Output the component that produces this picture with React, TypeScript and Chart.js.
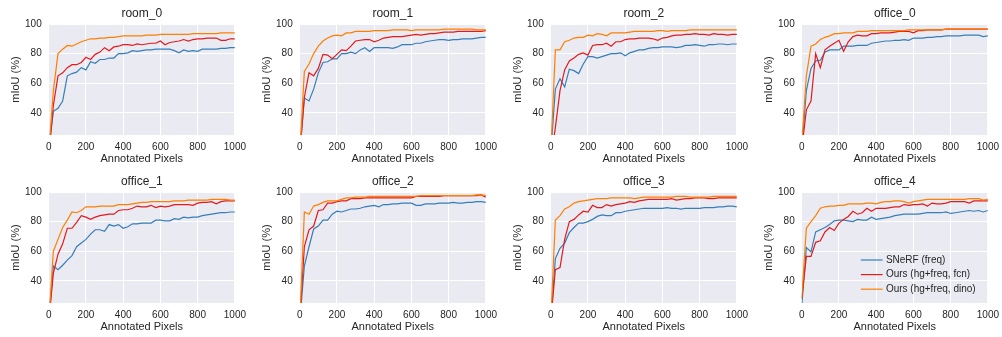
import { useEffect, useRef } from "react";
import Chart from "chart.js/auto";

const FONT = "'Liberation Sans', Arial, sans-serif";
const TEXT = "#262626";
const BG = "#EAEAF2";
const BLUE = "#377eb8";
const RED = "#e41a1c";
const ORANGE = "#ff7f00";

const seriesLabels = ["SNeRF (freq)", "Ours (hg+freq, fcn)", "Ours (hg+freq, dino)"];

const xs = [0, 25, 50, 75, 100, 125, 150, 175, 200, 225, 250, 275, 300, 325, 350, 375, 400, 425, 450, 475, 500, 525, 550, 575, 600, 625, 650, 675, 700, 725, 750, 775, 800, 825, 850, 875, 900, 925, 950, 975, 1000];
const xTicks = [0, 200, 400, 600, 800, 1000];
const yTicks = [40, 60, 80, 100];

// room_0
const room0Snerf = [14, 41, 43, 48, 65, 66.5, 67.5, 70.5, 69, 74.5, 73.5, 76, 76, 77, 77, 80, 80, 80.5, 82, 81.5, 82, 82.5, 82.5, 83, 83, 83, 83, 82, 80.5, 82.5, 81.5, 82, 81.5, 83, 83, 83, 83, 83.5, 83.5, 84, 84];
const room0Fcn = [12, 45, 65, 67, 70.5, 72.5, 72.5, 74, 77.5, 76, 79.5, 81, 84, 82, 84.5, 85, 86, 86, 85.5, 86.5, 86, 86.5, 87, 87, 88.5, 86, 87.5, 88, 88.5, 89.5, 88.5, 89.5, 90, 90, 90.5, 90.5, 90.5, 89, 89, 90, 90];
const room0Dino = [13, 55, 80, 83, 85.5, 85, 86.5, 88, 89, 90, 90, 90.5, 90.5, 91, 91, 91.5, 92, 92, 92, 92, 92, 92.5, 92.5, 92.5, 93, 93, 93, 93, 93, 93, 93, 93.5, 93.5, 93.5, 93.5, 93.5, 93.5, 94, 94, 94, 94];

// room_1
const room1Snerf = [12, 50, 48, 56, 67, 74, 74.5, 76.5, 76.5, 80, 80, 81, 80, 82.5, 84, 81.5, 84, 84, 84, 84, 83.5, 84.5, 86, 86, 86, 87, 87, 88, 88.5, 89, 89.5, 89.5, 89, 89.5, 89.5, 90, 90, 90, 90.5, 91, 91];
const room1Fcn = [12, 50.5, 67, 65, 70, 79.5, 79, 76.5, 79.5, 82.5, 82, 85, 88.5, 89, 89.5, 89.5, 88, 89, 90.5, 91, 91.5, 91.5, 91.5, 92, 92.5, 93, 92.5, 93, 93.5, 93.5, 94, 94.5, 94.5, 94.5, 95, 95, 95, 95, 95, 95, 95.5];
const room1Dino = [12, 68, 73, 80, 85, 88.5, 90.5, 92, 92.5, 92, 94, 94, 95, 95, 95, 95, 95.5, 95.5, 95.5, 95.5, 96, 96, 96, 96, 95.5, 96, 96, 96, 96, 96, 96, 96.5, 96.5, 96.5, 96.5, 96.5, 96.5, 96.5, 96, 96, 96];

// room_2
const room2Snerf = [12, 56, 63, 57.5, 69.5, 68.5, 66.5, 73, 78, 78, 77, 78, 79, 80, 80, 80.5, 78.5, 80.5, 81.5, 82.5, 82.5, 83.5, 84, 84, 84.5, 84.5, 84.5, 84, 84.5, 85.5, 85.5, 86, 85.5, 85, 86, 86, 86.5, 86.5, 86, 86.5, 86.5];
const room2Fcn = [8, 30, 55, 69, 75, 77, 79.5, 80.5, 79, 85.5, 86, 86, 87, 85, 88, 88, 89.5, 90, 90, 90.5, 90.5, 90.5, 90, 89, 90.5, 91, 92, 92.5, 92.5, 93, 93, 93.5, 93, 93, 92.5, 93.5, 93, 93, 92.5, 93, 93];
const room2Dino = [11, 82.5, 82.5, 88, 89, 90.5, 91, 91, 92.5, 92, 93.5, 93, 92, 94, 94, 94, 94, 94.5, 95, 95, 95, 95, 95, 95.5, 95.5, 95, 95.5, 95.5, 95.5, 95.5, 96, 96, 96, 96, 96, 96, 96, 96, 96, 96, 96];

// office_0
const office0Snerf = [15, 55, 70, 75, 75.5, 81, 82.5, 82.5, 82.5, 85, 85, 85, 85.5, 85.5, 85.5, 87, 87.5, 88, 88.5, 88.5, 89, 89, 89.5, 89, 90.5, 90.5, 90.5, 91, 91, 91.5, 91.5, 92, 92, 92, 92, 92.5, 92.5, 92.5, 92.5, 91.5, 92];
const office0Fcn = [15, 42, 48, 80, 70.5, 82.5, 85, 87, 89, 81.5, 88, 91.5, 92.5, 92, 92, 93.5, 93.5, 94, 94, 94, 94.5, 95, 95, 95, 94, 95.5, 95.5, 96, 96, 96, 96, 96.5, 96.5, 96.5, 96.5, 96.5, 96.5, 96.5, 96.5, 96.5, 96.5];
const office0Dino = [18, 65, 85, 86.5, 89.5, 91, 92, 93.5, 93.5, 94, 94, 94, 95, 95, 95, 95.5, 95.5, 95.5, 95.5, 95.5, 95.5, 95.5, 95.5, 96, 96, 96, 96, 96, 96, 96, 96, 96.5, 96.5, 96.5, 96.5, 96.5, 96.5, 96.5, 96.5, 96.5, 96.5];

// office_1
const office1Snerf = [12, 50, 47.5, 50.5, 54, 57, 63, 65.5, 68, 71.5, 74.5, 74.5, 73.5, 78, 77, 78, 75.5, 76.5, 78.5, 78.5, 79, 79, 79, 81, 81, 80.5, 80.5, 82, 81.5, 83, 82.5, 83, 83, 84, 84.5, 85, 85.5, 86, 86, 86.5, 86.5];
const office1Fcn = [12, 45, 58, 65, 75.5, 75.5, 79.5, 84, 83, 81.5, 83, 84, 84.5, 85, 85, 87.5, 88, 88, 89, 90.5, 90, 90, 91, 89.5, 90.5, 90, 90.5, 91.5, 91.5, 91.5, 91.5, 91, 92.5, 93, 93, 93.5, 92, 93.5, 94, 94, 94];
const office1Dino = [12, 60, 68, 76, 81, 86.5, 86, 87.5, 90, 90, 90, 90.5, 90.5, 90.5, 90.5, 91.5, 91.5, 91.5, 92, 92.5, 93, 93, 93.5, 93.5, 93.5, 93.5, 93.5, 94, 94, 94, 94.5, 94.5, 94.5, 94.5, 94.5, 95, 95, 95, 95, 94.5, 94.5];

// office_2
const office2Snerf = [12, 50, 63, 75, 77, 81, 81, 85, 87, 86.5, 87.5, 88.5, 88.5, 89, 90, 90.5, 91, 90, 91.5, 91.5, 92, 92, 92.5, 92.5, 92.5, 91, 91, 92, 92, 92, 92.5, 92.5, 92.5, 93, 92.5, 92.5, 93, 93, 93.5, 93.5, 93];
const office2Fcn = [12, 63, 74.5, 77, 87.5, 88, 92.5, 92.5, 93.5, 94, 94, 95.5, 95.5, 95.5, 96, 96, 96, 96, 96, 96, 96, 96, 96, 96, 96, 97, 97, 97, 97, 97, 97, 97.5, 97.5, 97.5, 97.5, 97.5, 97.5, 97.5, 97.5, 98, 96.5];
const office2Dino = [12, 86.5, 85, 90.5, 91.5, 93, 94, 94, 94, 95, 96, 96, 96.5, 96.5, 96.5, 97, 97, 97, 97, 97, 97, 97, 97, 97, 97, 97, 97.5, 97.5, 97.5, 97.5, 97.5, 97.5, 97.5, 97.5, 97.5, 97.5, 97.5, 97.5, 98, 98, 97.5];

// office_3
const office3Snerf = [12, 55, 62, 65.5, 72.5, 76, 79, 79, 80, 81.5, 83.5, 84.5, 84, 84, 86, 86, 87, 87.5, 88, 88.5, 89, 89, 89, 89, 89, 89.5, 89, 89, 88.5, 89, 89, 89, 89, 89.5, 89.5, 89.5, 90, 90, 90.5, 90.5, 90];
const office3Fcn = [12, 47.5, 49, 68, 80, 81.5, 84.5, 87, 86.5, 91, 89.5, 89.5, 91.5, 90.5, 91.5, 92, 92.5, 93.5, 93, 94, 94.5, 95, 95, 95, 95, 95, 95.5, 94.5, 95, 95.5, 95.5, 96, 96, 96, 95.5, 95.5, 96, 96, 96, 96, 96];
const office3Dino = [12, 81, 84, 88.5, 90, 92.5, 93.5, 94, 94.5, 95, 95.5, 95.5, 95.5, 96, 96, 96, 96, 96, 95.5, 96, 96.5, 96.5, 96.5, 96.5, 96.5, 96.5, 96.5, 97, 97, 97, 96.5, 96.5, 96.5, 96.5, 96.5, 97, 97, 97, 97, 97, 97];

// office_4
const office4Snerf = [22, 62.5, 59.5, 73, 74.5, 76, 78, 80.5, 81, 81, 80.5, 80, 81.5, 81, 81, 83, 81.5, 82, 82.5, 83, 84, 84.5, 85, 85, 85, 85, 85.5, 86, 86, 86, 86, 86.5, 85.5, 86, 86.5, 87, 87.5, 87, 87.5, 86.5, 87.5];
const office4Fcn = [28, 56.5, 56.5, 66, 67, 73, 76, 74, 79, 81.5, 83.5, 87, 85, 86, 89, 87, 89, 89, 89, 89.5, 90, 90, 91.5, 91, 91.5, 91.5, 92, 90.5, 92.5, 92, 92, 92.5, 93.5, 93.5, 93.5, 93.5, 92.5, 94, 94, 94, 94];
const office4Dino = [28, 75.5, 80, 84, 89, 90, 90.5, 90.5, 91, 91, 92, 92, 92, 92, 92.5, 92.5, 92, 93, 93.5, 93.5, 94, 94, 93.5, 92.5, 93.5, 94, 94.5, 95, 95, 95, 95, 95, 95, 95, 95, 95, 95.5, 95.5, 95.5, 94.5, 95];

const panelTitles = ["room_0", "room_1", "room_2", "office_0", "office_1", "office_2", "office_3", "office_4"];
const panelSeries = [
  [room0Snerf, room0Fcn, room0Dino],
  [room1Snerf, room1Fcn, room1Dino],
  [room2Snerf, room2Fcn, room2Dino],
  [office0Snerf, office0Fcn, office0Dino],
  [office1Snerf, office1Fcn, office1Dino],
  [office2Snerf, office2Fcn, office2Dino],
  [office3Snerf, office3Fcn, office3Dino],
  [office4Snerf, office4Fcn, office4Dino],
];
const seriesColors = [BLUE, RED, ORANGE];

const CANVAS_W = 252;
const CANVAS_H = 168;
const COL_LEFT = [0, 251, 502, 753];
const ROW_TOP = [0, 168];

const bgPlugin = {
  id: "axesBg",
  beforeDraw(chart: any) {
    const { ctx, chartArea } = chart;
    ctx.save();
    ctx.fillStyle = BG;
    ctx.fillRect(chartArea.left, chartArea.top, chartArea.right - chartArea.left, chartArea.bottom - chartArea.top);
    ctx.restore();
  },
};

const cornerLegend = {
  id: "cornerLegend",
  afterDraw(chart: any) {
    const { ctx, chartArea } = chart;
    ctx.save();
    ctx.font = `10px ${FONT}`;
    ctx.textBaseline = "middle";
    ctx.textAlign = "left";
    chart.data.datasets.forEach((d: any, i: number) => {
      const y = chartArea.bottom - 43 + i * 14.6;
      const x0 = chartArea.right - 127;
      ctx.strokeStyle = d.borderColor;
      ctx.lineWidth = 1.2;
      ctx.beginPath();
      ctx.moveTo(x0, y);
      ctx.lineTo(x0 + 21.7, y);
      ctx.stroke();
      ctx.fillStyle = TEXT;
      ctx.fillText(d.label, x0 + 25, y);
    });
    ctx.restore();
  },
};

function Panel({ index }: { index: number }) {
  const ref = useRef<HTMLCanvasElement | null>(null);
  useEffect(() => {
    if (!ref.current) return;
    const series = panelSeries[index];
    const datasets = series.map((vals, si) => ({
      label: seriesLabels[si],
      data: xs.map((x, i) => ({ x, y: vals[i] })),
      borderColor: seriesColors[si],
      backgroundColor: seriesColors[si],
      borderWidth: 1.2,
      pointRadius: 0,
      pointHoverRadius: 0,
      tension: 0,
      fill: false,
      clip: 0,
      order: 3 - si,
    }));
    const plugins: any[] = [bgPlugin];
    if (index === 7) plugins.push(cornerLegend);
    const chart = new Chart(ref.current, {
      type: "line",
      data: { datasets },
      options: {
        animation: false,
        responsive: false,
        devicePixelRatio: 1,
        events: [],
        layout: { padding: { top: 0, right: 13, bottom: 0, left: 0 } },
        plugins: {
          legend: { display: false },
          tooltip: { enabled: false },
          title: {
            display: true,
            fullSize: false,
            text: panelTitles[index],
            color: TEXT,
            font: { family: FONT, size: 12, weight: "normal" },
            padding: { top: 6.6, bottom: 3 },
          },
        },
        scales: {
          x: {
            type: "linear",
            min: 0,
            max: 1000,
            afterBuildTicks: (axis: any) => {
              axis.ticks = xTicks.map((v) => ({ value: v }));
            },
            afterFit: (scale: any) => {
              scale.height = 33;
            },
            grid: { color: "#ffffff", lineWidth: 1, drawTicks: false },
            border: { display: false },
            ticks: {
              color: TEXT,
              font: { family: FONT, size: 10 },
              padding: 6,
              maxRotation: 0,
              autoSkip: false,
              callback: (v: any) => String(v),
            },
            title: {
              display: true,
              text: "Annotated Pixels",
              color: TEXT,
              font: { family: FONT, size: 11 },
              padding: { top: 0, bottom: 2.5 },
            },
          },
          y: {
            type: "linear",
            min: 25,
            max: 100,
            afterBuildTicks: (axis: any) => {
              axis.ticks = yTicks.map((v) => ({ value: v }));
            },
            afterFit: (scale: any) => {
              scale.width = 48.7;
            },
            grid: { color: "#ffffff", lineWidth: 1, drawTicks: false },
            border: { display: false },
            ticks: {
              color: TEXT,
              font: { family: FONT, size: 10 },
              padding: 7,
              callback: (v: any) => String(v),
            },
            title: {
              display: true,
              text: "mIoU (%)",
              color: TEXT,
              font: { family: FONT, size: 11 },
              padding: { top: 9, bottom: 0 },
            },
          },
        },
      } as any,
      plugins,
    });
    return () => chart.destroy();
  }, [index]);
  const col = index % 4;
  const row = Math.floor(index / 4);
  return (
    <canvas
      ref={ref}
      width={CANVAS_W}
      height={CANVAS_H}
      style={{ position: "absolute", left: COL_LEFT[col], top: ROW_TOP[row], width: CANVAS_W, height: CANVAS_H }}
    />
  );
}

export default function App() {
  return (
    <div
      style={{
        position: "absolute",
        left: 0,
        top: 0,
        width: 1002,
        height: 337,
        overflow: "hidden",
        background: "#ffffff",
      }}
    >
      {panelTitles.map((_, i) => (
        <Panel key={i} index={i} />
      ))}
    </div>
  );
}
